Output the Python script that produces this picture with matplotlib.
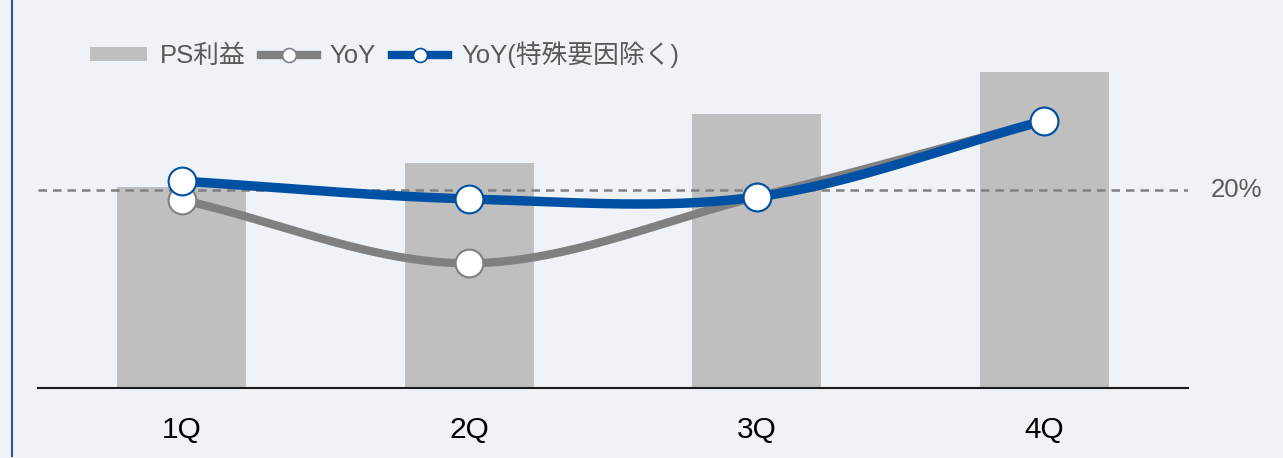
import numpy as np
import matplotlib
matplotlib.use("Agg")
from matplotlib import pyplot as plt
from matplotlib.patches import Patch
from matplotlib.lines import Line2D

# data
quarters = ["1Q", "2Q", "3Q", "4Q"]
ps_profit = [101, 113, 138, 159]           # bar values (index)
yoy = [19.0, 12.6, 19.3, 27.0]             # %
yoy_adj = [20.9, 19.1, 19.3, 27.0]         # % excluding special factors
ref_level = 20

BG = "#EFF3F8"
BAR = "#BFBFBF"
GRAY = "#808080"
BLUE = "#0051A3"
TXT = "#595959"
FONT = ["Liberation Sans", "Noto Sans CJK JP", "DejaVu Sans"]

plt.rcParams["font.family"] = FONT


def smooth(xs, ys, n=60):
    # cubic hermite through the points (catmull-rom tangents)
    xs = np.asarray(xs, float)
    ys = np.asarray(ys, float)
    m = np.zeros_like(ys)
    m[1:-1] = (ys[2:] - ys[:-2]) / (xs[2:] - xs[:-2])
    m[0] = (ys[1] - ys[0]) / (xs[1] - xs[0])
    m[-1] = (ys[-1] - ys[-2]) / (xs[-1] - xs[-2])
    out_x, out_y = [], []
    for i in range(len(xs) - 1):
        h = xs[i + 1] - xs[i]
        t = np.linspace(0, 1, n)
        h00 = 2 * t**3 - 3 * t**2 + 1
        h10 = t**3 - 2 * t**2 + t
        h01 = -2 * t**3 + 3 * t**2
        h11 = t**3 - t**2
        out_x.append(xs[i] + t * h)
        out_y.append(h00 * ys[i] + h10 * h * m[i] + h01 * ys[i + 1] + h11 * h * m[i + 1])
    return np.concatenate(out_x), np.concatenate(out_y)


fig = plt.figure(figsize=(12.83, 4.58), dpi=100, facecolor=BG)
ax = fig.add_axes([38 / 1283, 1 - 388 / 458, 1150 / 1283, 348 / 458])
ax.set_facecolor(BG)
x = np.arange(len(quarters))

ax.bar(x, ps_profit, width=0.45, color=BAR, zorder=1)
ax.set_xlim(-0.5, 3.5)
ax.set_ylim(0, 175)
ax.set_xticks(x)
ax.set_xticklabels(quarters, fontsize=21.5, color="black")
ax.tick_params(axis="x", length=0, pad=20)
ax.set_yticks([])
for s in ["top", "right", "left"]:
    ax.spines[s].set_visible(False)
ax.spines["bottom"].set_color("#1a1a1a")
ax.spines["bottom"].set_linewidth(1.5)

ax2 = ax.twinx()
ax2.set_ylim(0, 348 / 9.9)
ax2.set_yticks([])
for s in ax2.spines.values():
    s.set_visible(False)

ax2.axhline(ref_level, color=GRAY, lw=1.8, dashes=(3.4, 2.4), zorder=2)
ax2.text(3.58, ref_level, f"{ref_level}%", fontsize=18.5, color=TXT, va="center", ha="left")

sx, sy = smooth(x, yoy)
ax2.plot(sx, sy, color=GRAY, lw=6, solid_capstyle="round", zorder=3)
ax2.plot(x, yoy, "o", ms=20, mfc="white", mec=GRAY, mew=1.5, zorder=4)
bx, by = smooth(x, yoy_adj)
ax2.plot(bx, by, color=BLUE, lw=6.8, solid_capstyle="round", zorder=5)
ax2.plot(x, yoy_adj, "o", ms=20, mfc="white", mec=BLUE, mew=1.5, zorder=6)

handles = [
    Patch(facecolor=BAR, edgecolor="none"),
    Line2D([], [], color=GRAY, lw=6, marker="o", ms=10, mfc="white", mec=GRAY, mew=1.2),
    Line2D([], [], color=BLUE, lw=6, marker="o", ms=10, mfc="white", mec=BLUE, mew=1.2),
]
labels = ["PS利益", "YoY", "YoY(特殊要因除く)"]
fig.legend(handles, labels, ncol=3, frameon=False, loc="center left",
           bbox_to_anchor=(90 / 1283, 1 - 55 / 458), fontsize=18.5,
           labelcolor=TXT, handlelength=2.2, handleheight=0.45,
           handletextpad=0.5, columnspacing=0.6, borderaxespad=0, borderpad=0)

# frame edge on the left
fig.add_artist(Line2D([11.5 / 1283, 11.5 / 1283], [2 / 458, 1], color="#2F5597", lw=1.5))

fig.savefig("out.png", dpi=100, facecolor=BG)
